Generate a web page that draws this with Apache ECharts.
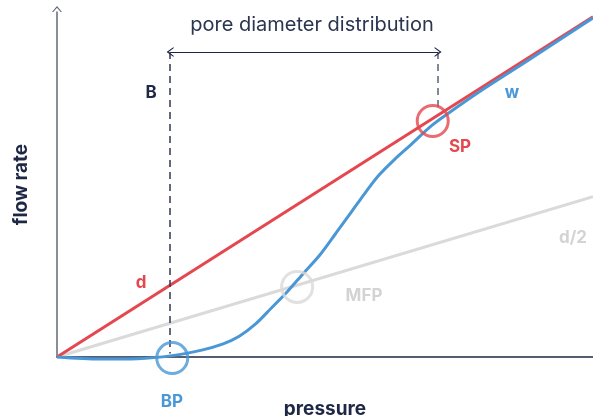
<!DOCTYPE html>
<html>
<head>
<meta charset="utf-8">
<script src="https://cdn.jsdelivr.net/npm/echarts@6/dist/echarts.min.js"></script>
<style>html,body{margin:0;padding:0;background:#fff}#c{width:593px;height:416px}</style>
</head>
<body>
<div id="c"></div>
<script>
// pressure / flow rate in arbitrary units (0..100)
const dLine = [[0, 0], [100, 98.6]];
const halfLine = [[0, 0], [100, 46.5]];
const wCurve = [
  [0, 0], [8, -0.6], [15, -0.5], [21.5, 0.4], [27, 2.0], [31, 3.8], [34, 6.0],
  [37, 9.5], [40, 14.2], [43, 19.0], [46, 24.3], [49, 29.5], [52, 35.8], [55, 42.2],
  [57.5, 47.6], [60, 52.6], [63, 57.3], [66, 61.5], [70, 67.2], [75, 72.8],
  [80, 78.1], [88, 86.1], [100, 98.3]
];
const bpPoint = [21.5, -0.3];
const mfpPoint = [44.8, 20.3];
const spPoint = [70.1, 68.4];
const bpX = 21.1, spX = 71.1, rangeY = 88.4, spDashEnd = 71.0;

const RED = '#e5474f', BLUE = '#4a97d6', GRAY = '#dadada', GRAYTXT = '#d3d3d3', NAVY = '#1e2845';
const FONT = 'Inter';
const chev = 'path://M5,0 L10,6 L8.7,6 L5,1.7 L1.3,6 L0,6 Z';

const chart = echarts.init(document.getElementById('c'), null, {renderer: 'canvas'});
chart.setOption({
  animation: false,
  grid: {left: 57, right: 0, top: 12, bottom: 59, containLabel: false, outerBoundsMode: 'none'},
  xAxis: {
    type: 'value', min: 0, max: 100,
    splitLine: {show: false}, axisTick: {show: false}, axisLabel: {show: false},
    axisLine: {lineStyle: {color: NAVY, width: 1.5}, symbol: ['none', chev], symbolSize: [10, 7], symbolOffset: [0, 3]},
    name: 'pressure', nameLocation: 'middle', nameGap: 43,
    nameTextStyle: {fontFamily: FONT, fontSize: 19, fontWeight: 'bold', color: NAVY}
  },
  yAxis: {
    type: 'value', min: 0, max: 100,
    splitLine: {show: false}, axisTick: {show: false}, axisLabel: {show: false},
    axisLine: {lineStyle: {color: '#5f6777', width: 1.5}, symbol: ['none', chev], symbolSize: [10, 7], symbolOffset: [0, 3]},
    name: 'flow rate', nameLocation: 'middle', nameGap: 26,
    nameTextStyle: {fontFamily: FONT, fontSize: 19, fontWeight: 'bold', color: NAVY}
  },
  series: [
    {type: 'line', data: halfLine, showSymbol: false, clip: false, z: 2,
     lineStyle: {color: GRAY, width: 3}},
    {type: 'line', data: dLine, showSymbol: false, clip: false, z: 3,
     lineStyle: {color: RED, width: 3},
     markLine: {
       silent: true, symbol: ['none', 'none'], label: {show: false},
       lineStyle: {color: '#2f3850', width: 1.5, type: [7, 5]},
       data: [
         [{coord: [bpX, rangeY]}, {coord: [bpX, 1.0]}],
         [{coord: [spX, rangeY]}, {coord: [spX, spDashEnd], lineStyle: {color: '#5a6172'}}]
       ]
     }},
    {type: 'line', data: wCurve, showSymbol: false, clip: false, smooth: 0.3, z: 4,
     lineStyle: {color: BLUE, width: 3},
     markLine: {
       silent: true, symbol: [chev, chev], symbolSize: [10, 7], label: {show: false},
       lineStyle: {color: NAVY, width: 1.2, type: 'solid'},
       data: [[{coord: [bpX, rangeY]}, {coord: [spX, rangeY]}]]
     }},
    {type: 'scatter', clip: false, z: 5, symbol: 'circle', symbolSize: 31,
     data: [
       {value: bpPoint, itemStyle: {color: 'rgba(0,0,0,0)', borderColor: BLUE, borderWidth: 3}},
       {value: mfpPoint, itemStyle: {color: 'rgba(0,0,0,0)', borderColor: GRAY, borderWidth: 3}},
       {value: spPoint, itemStyle: {color: 'rgba(0,0,0,0)', borderColor: RED, borderWidth: 3}}
     ]}
  ],
  graphic: [
    {type: 'text', x: 312, y: 25, style: {text: 'pore diameter distribution', fontFamily: FONT, fontSize: 20, fill: '#2a3550', align: 'center', verticalAlign: 'middle'}},
    {type: 'text', x: 151, y: 93, style: {text: 'B', fontFamily: FONT, fontSize: 17, fontWeight: 'bold', fill: NAVY, align: 'center', verticalAlign: 'middle'}},
    {type: 'text', x: 512, y: 93, style: {text: 'w', fontFamily: FONT, fontSize: 17, fontWeight: 'bold', fill: BLUE, align: 'center', verticalAlign: 'middle'}},
    {type: 'text', x: 460, y: 147, style: {text: 'SP', fontFamily: FONT, fontSize: 17, fontWeight: 'bold', fill: RED, align: 'center', verticalAlign: 'middle'}},
    {type: 'text', x: 141, y: 283, style: {text: 'd', fontFamily: FONT, fontSize: 17, fontWeight: 'bold', fill: RED, align: 'center', verticalAlign: 'middle'}},
    {type: 'text', x: 364, y: 296, style: {text: 'MFP', fontFamily: FONT, fontSize: 17, fontWeight: 'bold', fill: GRAYTXT, align: 'center', verticalAlign: 'middle'}},
    {type: 'text', x: 573, y: 238, style: {text: 'd/2', fontFamily: FONT, fontSize: 17, fontWeight: 'bold', fill: GRAYTXT, align: 'center', verticalAlign: 'middle'}},
    {type: 'text', x: 172, y: 402, style: {text: 'BP', fontFamily: FONT, fontSize: 17, fontWeight: 'bold', fill: BLUE, align: 'center', verticalAlign: 'middle'}}
  ]
});
</script>
</body>
</html>
